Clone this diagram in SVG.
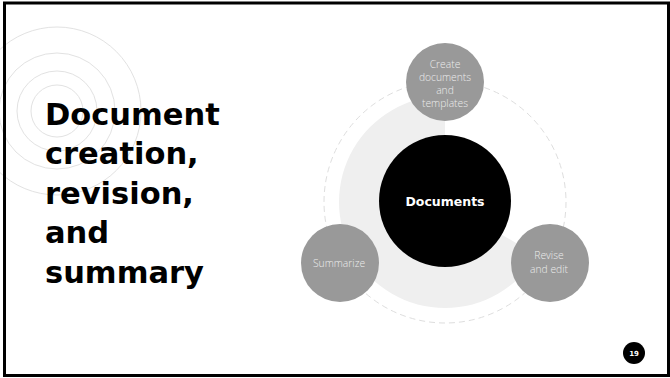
<svg xmlns="http://www.w3.org/2000/svg" width="670" height="378" viewBox="0 0 670 378">
  <style>
    .title { font-family: "DejaVu Sans", "Liberation Sans", sans-serif; font-weight: bold; font-size: 30.5px; fill: #000; }
    .deco { fill: none; stroke: #e2e2e2; stroke-width: 1; }
    .node { fill: #999999; }
    .nlabel { font-family: "Open Sans", "Liberation Sans", sans-serif; font-weight: 300; font-size: 10.3px; fill: #ececec; text-anchor: middle; }
    .hub { fill: #000; }
    .hlabel { font-family: "DejaVu Sans", "Liberation Sans", sans-serif; font-weight: bold; font-size: 12.5px; fill: #fff; text-anchor: middle; }
  </style>
  <rect x="0" y="0" width="670" height="378" fill="#fff"/>
  <g id="decoration">
    <circle class="deco" cx="57" cy="111" r="26"/>
    <circle class="deco" cx="57" cy="111" r="40"/>
    <circle class="deco" cx="57" cy="111" r="58"/>
    <circle class="deco" cx="57" cy="111" r="84"/>
  </g>
  <g id="title">
    <text class="title" x="45" y="125">Document</text>
    <text class="title" x="45" y="164">creation,</text>
    <text class="title" x="45" y="203.5">revision,</text>
    <text class="title" x="45" y="243">and</text>
    <text class="title" x="45" y="282.5">summary</text>
  </g>
  <g id="connectors">
    <path d="M445 202 L536.8 255 A106 106 0 1 1 445 96 Z" fill="#efefef"/>
    <circle cx="445" cy="202" r="121" fill="none" stroke="#dedede" stroke-width="1" stroke-dasharray="6 4"/>
  </g>
  <g id="node-documents">
    <circle class="hub" cx="445" cy="201" r="66"/>
    <text class="hlabel" x="445" y="206">Documents</text>
  </g>
  <g id="node-create">
    <circle class="node" cx="445" cy="82" r="39"/>
    <text class="nlabel" x="445" y="68">Create</text>
    <text class="nlabel" x="445" y="81">documents</text>
    <text class="nlabel" x="445" y="94">and</text>
    <text class="nlabel" x="445" y="107">templates</text>
  </g>
  <g id="node-summarize">
    <circle class="node" cx="340" cy="263" r="39"/>
    <text class="nlabel" x="339" y="266.5">Summarize</text>
  </g>
  <g id="node-revise">
    <circle class="node" cx="550" cy="263" r="39"/>
    <text class="nlabel" x="549" y="258.5">Revise</text>
    <text class="nlabel" x="549" y="272.5">and edit</text>
  </g>
  <g id="page-number">
    <circle cx="634" cy="353" r="11" fill="#000"/>
    <text x="634" y="355.5" font-family="DejaVu Sans, sans-serif" font-weight="bold" font-size="7" fill="#fff" text-anchor="middle">19</text>
  </g>
  <rect x="4.5" y="3" width="664" height="372.5" fill="none" stroke="#000" stroke-width="3"/>
</svg>
